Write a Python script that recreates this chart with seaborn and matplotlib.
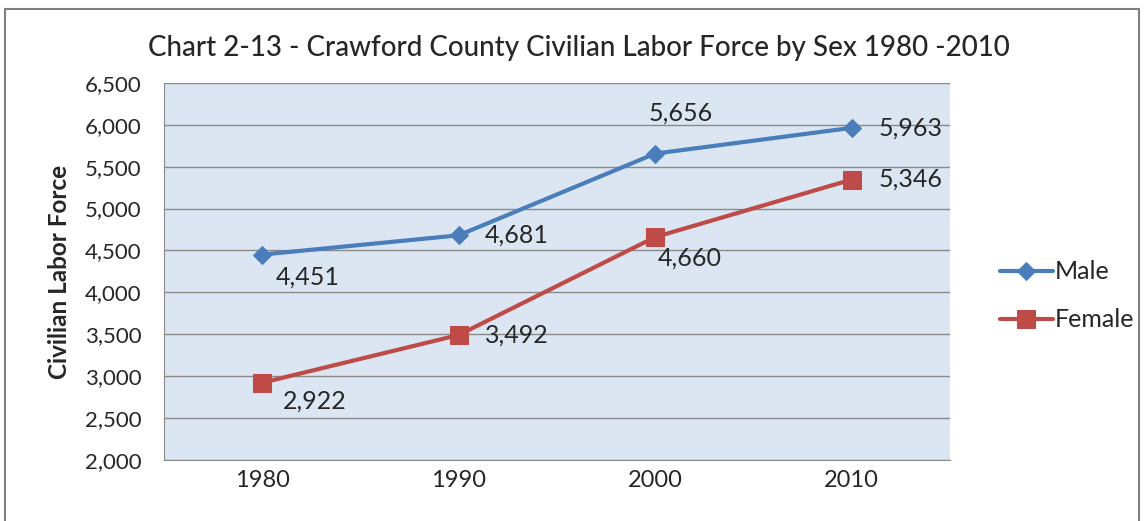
import matplotlib
matplotlib.use("Agg")
import matplotlib.pyplot as plt
import matplotlib.patches as patches
import seaborn as sns
import pandas as pd

years = ["1980", "1990", "2000", "2010"]
male = [4451, 4681, 5656, 5963]
female = [2922, 3492, 4660, 5346]

sns.set_style("white")
plt.rcParams['font.family'] = ['Lato', 'DejaVu Sans']

df = pd.DataFrame({"Year": years * 2,
                   "Value": male + female,
                   "Sex": ["Male"] * 4 + ["Female"] * 4})

fig = plt.figure(figsize=(11.46, 5.21), dpi=100)
ax = fig.add_axes([0.143, 0.117, 0.686, 0.724])
ax.set_facecolor("#dce6f2")

colors = {"Male": "#4a7ebb", "Female": "#be4b48"}
markers = {"Male": "D", "Female": "s"}
for sex in ["Male", "Female"]:
    sub = df[df["Sex"] == sex]
    sns.lineplot(data=sub, x="Year", y="Value", ax=ax, color=colors[sex],
                 marker=markers[sex], markersize=9 if sex == "Male" else 13,
                 markeredgecolor=colors[sex], linewidth=3, label=sex, sort=False)

ax.set_ylim(2000, 6500)
ax.set_xlim(-0.5, 3.5)
ax.set_yticks(range(2000, 6501, 500))
ax.set_yticklabels([f"{v:,}" for v in range(2000, 6501, 500)], fontsize=16)
ax.tick_params(axis="x", labelsize=17, length=0, pad=7)
ax.tick_params(axis="y", length=0, pad=16)
ax.grid(axis="y", color="#8a8a8a", linewidth=1)
ax.set_axisbelow(True)
for s in ["top", "right"]:
    ax.spines[s].set_visible(False)
for s in ["left", "bottom"]:
    ax.spines[s].set_color("#8a8a8a")
ax.set_xlabel("")
ax.set_ylabel("Civilian Labor Force", fontsize=17.5, fontweight="bold", labelpad=10)

# data labels (offsets in points, alignment)
male_off = [(10, -16, "left"), (19, 0, "left"), (18, 29, "center"), (19, 0, "left")]
female_off = [(15, -13, "left"), (19, 0, "left"), (25, -15, "center"), (19, 0, "left")]
for vals, offs in [(male, male_off), (female, female_off)]:
    for i, v in enumerate(vals):
        dx, dy, ha = offs[i]
        ax.annotate(f"{v:,}", (i, v), xytext=(dx, dy), textcoords="offset points",
                    fontsize=18, ha=ha, va="center")

leg = ax.legend(loc="center left", bbox_to_anchor=(1.035, 0.435), frameon=False,
                fontsize=18, handlelength=2.1, handletextpad=0.1, labelspacing=1.0)

fig.text(0.505, 0.907, "Chart 2-13 - Crawford County Civilian Labor Force by Sex 1980 -2010",
         ha="center", va="center", fontsize=20, fontweight="medium")

border = patches.Rectangle((0.004, -0.05), 0.99, 1.033, transform=fig.transFigure,
                           fill=False, edgecolor="#7f7f7f", linewidth=1.5)
fig.patches.append(border)

fig.savefig("out.png", dpi=100)
